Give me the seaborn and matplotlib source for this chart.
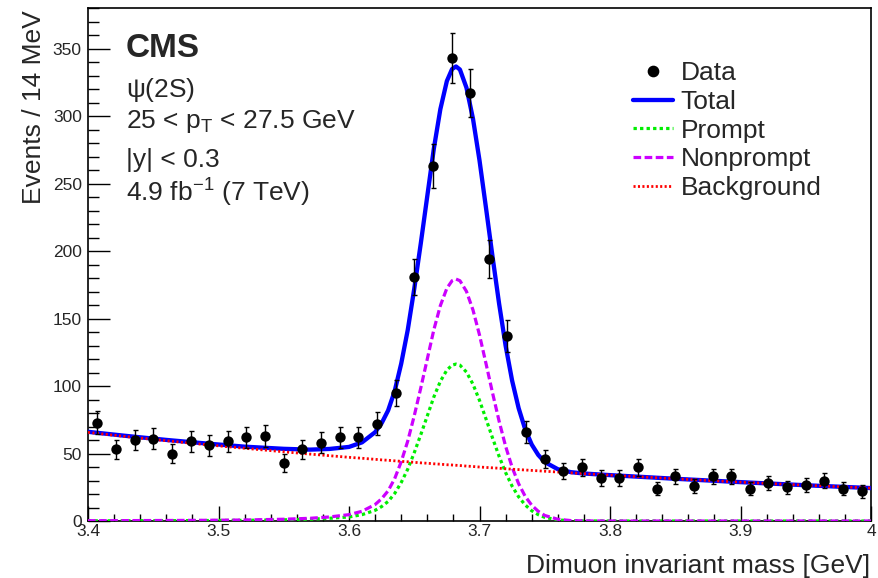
import matplotlib
matplotlib.use("Agg")
import matplotlib.pyplot as plt
from matplotlib.lines import Line2D
from matplotlib.ticker import MultipleLocator, FormatStrFormatter
import seaborn as sns

# Binned data: 42 bins between 3.4 and 4.0 GeV (~14 MeV each)
BIN_CENTERS = [3.4071, 3.4214, 3.4357, 3.4500, 3.4643, 3.4786, 3.4929, 3.5071,
               3.5214, 3.5357, 3.5500, 3.5643, 3.5786, 3.5929, 3.6071, 3.6214,
               3.6357, 3.6500, 3.6643, 3.6786, 3.6929, 3.7071, 3.7214, 3.7357,
               3.7500, 3.7643, 3.7786, 3.7929, 3.8071, 3.8214, 3.8357, 3.8500,
               3.8643, 3.8786, 3.8929, 3.9071, 3.9214, 3.9357, 3.9500, 3.9643,
               3.9786, 3.9929]
COUNTS = [73, 53, 60, 61, 50, 59, 56, 59, 62, 63, 43, 53, 58, 62, 62, 72,
          95, 181, 263, 343, 317, 194, 137, 66, 46, 37, 40, 32, 32, 40, 24,
          33, 26, 33, 33, 24, 28, 25, 27, 30, 24, 22]
ERRORS = [8.5, 7.3, 7.7, 7.8, 7.1, 7.7, 7.5, 7.7, 7.9, 7.9, 6.6, 7.3, 7.6,
          7.9, 7.9, 8.5, 9.7, 13.5, 16.2, 18.5, 17.8, 13.9, 11.7, 8.1, 6.8,
          6.1, 6.3, 5.7, 5.7, 6.3, 4.9, 5.7, 5.1, 5.7, 5.7, 4.9, 5.3, 5.0,
          5.2, 5.5, 4.9, 4.7]

# Fit curves at these masses
FIT_MASS = [3.400, 3.430, 3.460, 3.490, 3.520, 3.550, 3.570, 3.585, 3.600,
            3.610, 3.620, 3.625, 3.630, 3.635, 3.640, 3.645, 3.650, 3.655,
            3.660, 3.665, 3.670, 3.675, 3.679, 3.682, 3.685, 3.690, 3.695,
            3.700, 3.705, 3.710, 3.715, 3.720, 3.725, 3.730, 3.735, 3.740,
            3.745, 3.750, 3.760, 3.770, 3.780, 3.800, 3.850, 3.900, 3.950,
            4.000]
TOTAL = [66.1, 63.0, 60.1, 57.5, 55.1, 53.5, 52.9, 53.4, 54.9, 58.3, 65.8,
         72.5, 82.0, 96.3, 116.6, 141.5, 172.1, 205.7, 240.9, 275.9, 305.2,
         326.1, 335.0, 336.9, 334.6, 321.2, 298.2, 267.3, 231.9, 195.8, 161.2,
         130.0, 104.0, 83.6, 68.0, 56.7, 49.0, 43.7, 38.4, 36.2, 35.2, 34.0,
         31.3, 28.8, 26.5, 24.4]
PROMPT = [0.14, 0.19, 0.24, 0.34, 0.49, 0.87, 1.3, 2.0, 3.0, 4.7, 7.9, 10.7,
          14.5, 20.4, 28.5, 38.4, 50.6, 64.0, 77.9, 91.9, 103.5, 111.9, 115.5,
          116.3, 115.5, 110.4, 101.4, 89.4, 75.6, 61.5, 48.0, 35.9, 25.8,
          17.9, 11.9, 7.6, 4.7, 2.7, 0.8, 0.2, 0.05, 0, 0, 0, 0, 0]
NONPROMPT = [0.22, 0.29, 0.38, 0.52, 0.75, 1.3, 2.0, 3.0, 4.7, 7.2, 12.2,
             16.5, 22.4, 31.4, 43.9, 59.2, 78.0, 98.6, 120.1, 141.7, 159.6,
             172.5, 178.1, 179.3, 178.1, 170.2, 156.4, 137.9, 116.6, 94.9,
             74.1, 55.4, 39.8, 27.6, 18.3, 11.7, 7.2, 4.1, 1.3, 0.3, 0.07,
             0, 0, 0, 0, 0]
BACKGROUND = [65.7, 62.5, 59.5, 56.6, 53.9, 51.3, 49.6, 48.4, 47.2, 46.5,
              45.7, 45.3, 45.0, 44.6, 44.2, 43.9, 43.5, 43.1, 42.8, 42.4,
              42.1, 41.7, 41.5, 41.3, 41.1, 40.7, 40.4, 40.0, 39.7, 39.4,
              39.1, 38.7, 38.4, 38.1, 37.8, 37.5, 37.2, 36.9, 36.3, 35.7,
              35.1, 34.0, 31.3, 28.8, 26.5, 24.4]

LEGEND_LABELS = ["Data", "Total", "Prompt", "Nonprompt", "Background"]
INFO_LINES = [r"$\psi$(2S)", r"25 < p$_{T}$ < 27.5 GeV", "|y| < 0.3",
              r"4.9 fb$^{-1}$ (7 TeV)"]

sns.set_style("ticks")
plt.rcParams['font.family'] = ['Liberation Sans', 'DejaVu Sans']
plt.rcParams['mathtext.fontset'] = 'custom'
plt.rcParams['mathtext.rm'] = 'Liberation Sans'
plt.rcParams['mathtext.it'] = 'Liberation Sans:italic'
plt.rcParams['mathtext.default'] = 'regular'
plt.rcParams['lines.scale_dashes'] = False

W, H = 879, 578
fig = plt.figure(figsize=(W / 100, H / 100), dpi=100)
ax = fig.add_axes([88 / W, 1 - 521 / H, 783 / W, 512.7 / H])

sns.lineplot(x=FIT_MASS, y=TOTAL, color='#0000ff', linewidth=3.1, ax=ax,
             zorder=3)
total_line = ax.lines[-1]
sns.lineplot(x=FIT_MASS, y=PROMPT, color='#00ee00', linewidth=2.3,
             linestyle=(0, (2.4, 2.3)), ax=ax, zorder=3)
prompt_line = ax.lines[-1]
sns.lineplot(x=FIT_MASS, y=NONPROMPT, color='#cc00ff', linewidth=2.3,
             linestyle=(0, (5.5, 2.5)), ax=ax, zorder=3)
nonprompt_line = ax.lines[-1]
sns.lineplot(x=FIT_MASS, y=BACKGROUND, color='#ff0000', linewidth=2.0,
             linestyle=(0, (1.5, 1.7)), ax=ax, zorder=4)
bkg_line = ax.lines[-1]

ax.errorbar(BIN_CENTERS, COUNTS, yerr=ERRORS, fmt='none', ecolor='black',
            elinewidth=1, capsize=1.8, capthick=1, zorder=5)
sns.scatterplot(x=BIN_CENTERS, y=COUNTS, color='black', s=56,
                edgecolor='black', linewidth=0, ax=ax, zorder=6)

ax.set_xlim(3.4, 4.0)
ax.set_ylim(0, 380)
ax.xaxis.set_major_locator(MultipleLocator(0.1))
ax.xaxis.set_minor_locator(MultipleLocator(0.02))
ax.yaxis.set_major_locator(MultipleLocator(50))
ax.yaxis.set_minor_locator(MultipleLocator(10))
ax.xaxis.set_major_formatter(FormatStrFormatter('%g'))
ax.tick_params(which='both', direction='in', top=False, right=False,
               labelsize=12.5, width=1, color='black')
ax.tick_params(axis='x', which='major', length=10.8, pad=2)
ax.tick_params(axis='x', which='minor', length=5)
ax.tick_params(axis='y', which='major', length=16, pad=4.5)
ax.tick_params(axis='y', which='minor', length=8)
for sp in ax.spines.values():
    sp.set_linewidth(1.2)
    sp.set_color('black')
ax.set_xlabel("")
ax.set_ylabel("")

fig.text(870 / W, 1 - 573 / H, "Dimuon invariant mass [GeV]", ha='right',
         va='baseline', fontsize=19)
fig.text(33.8 / W, 1 - 10 / H, "Events / 14 MeV", rotation=90, ha='center',
         va='top', fontsize=19)

ax.text(0.0485, 0.9056, "CMS", transform=ax.transAxes, fontsize=24,
        fontweight='bold', va='baseline')
for yb, line in zip([0.8264, 0.766, 0.691, 0.6228], INFO_LINES):
    ax.text(0.0485, yb, line, transform=ax.transAxes, fontsize=19,
            va='baseline')

data_handle = Line2D([], [], marker='o', color='black', linestyle='none',
                     markersize=7.4)
ax.legend([data_handle, total_line, prompt_line, nonprompt_line, bkg_line],
          LEGEND_LABELS, loc='upper left', bbox_to_anchor=(0.696, 0.897),
          frameon=False, fontsize=19, handlelength=1.5, handletextpad=0.3,
          labelspacing=0.18, borderpad=0, borderaxespad=0)

fig.savefig("out.png", dpi=100)
